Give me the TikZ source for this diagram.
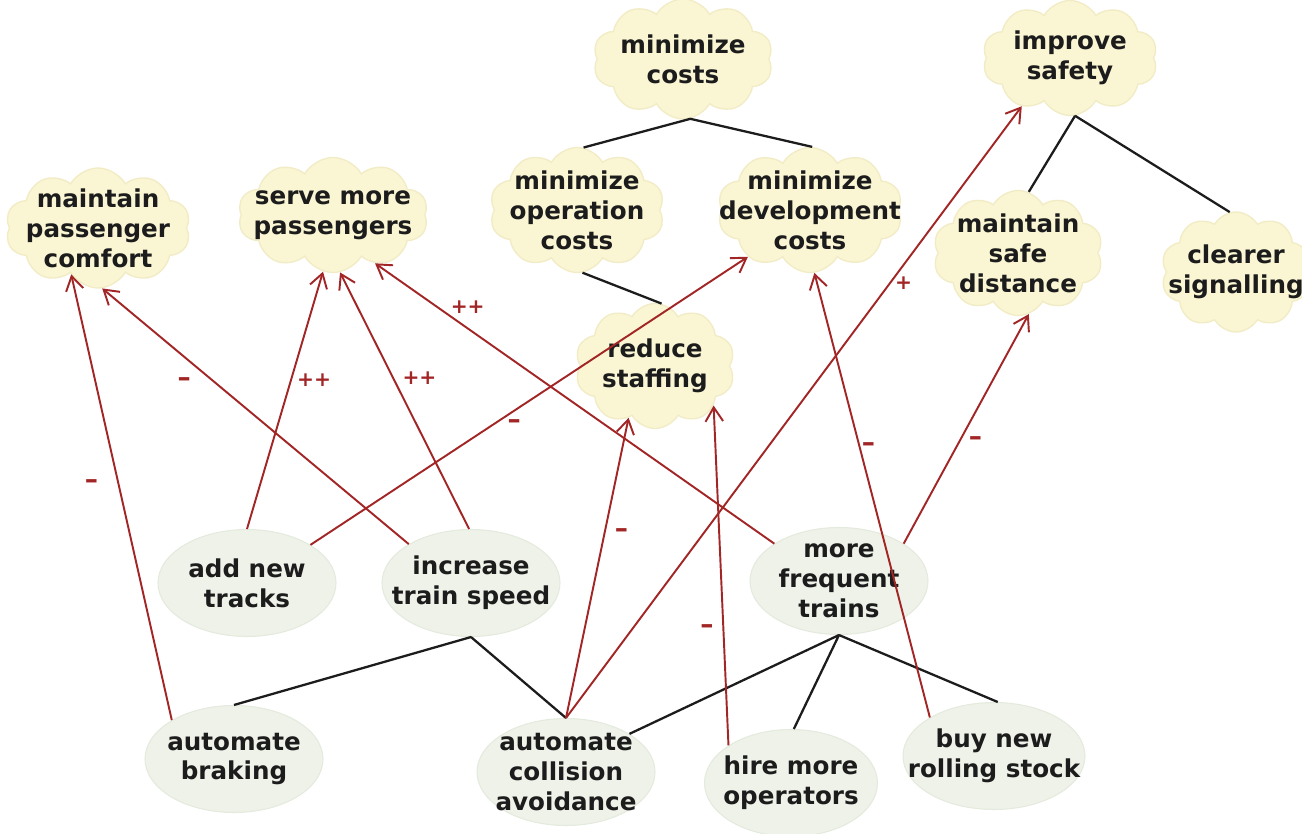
\documentclass[tikz,border=0pt]{standalone}
\usepackage{fontspec}
\setmainfont{DejaVu Sans}
\usetikzlibrary{shapes.symbols,shapes.geometric,arrows.meta}
\definecolor{cloudfill}{RGB}{250,246,212}
\definecolor{cloudline}{RGB}{242,236,198}
\definecolor{taskfill}{RGB}{238,242,232}
\definecolor{taskline}{RGB}{228,234,222}
\definecolor{linkred}{RGB}{162,38,38}
\definecolor{ink}{RGB}{28,28,28}
\begin{document}
\begin{tikzpicture}[x=.2mm,y=-.2mm,
  goal/.style={cloud,cloud puffs=10,cloud puff arc=120,cloud ignores aspect,
    fill=cloudfill,draw=cloudline,line width=.8pt,inner sep=-3cm,
    minimum width=3.6cm,minimum height=2.4cm,align=center,
    font=\bfseries\fontsize{14}{17}\selectfont,text=ink},
  task/.style={ellipse,fill=taskfill,draw=taskline,line width=.6pt,inner sep=-3cm,
    minimum width=3.56cm,minimum height=2.14cm,align=center,
    font=\bfseries\fontsize{14}{17}\selectfont,text=ink},
  andline/.style={ink,line width=1.3pt},
  contrib/.style={linkred,line width=1.1pt,-{Straight Barb[length=8pt,width=10pt,line width=1.1pt]}},
  sign/.style={text=linkred,font=\bfseries\fontsize{11.5}{12}\selectfont,inner sep=0pt},
  signdash/.style={sign,font=\bfseries\fontsize{15}{15}\selectfont}]
  \useasboundingbox (0,0) rectangle (1302,834);
  \node[goal] (mincost) at (683,59) {minimize\\costs};
  \node[goal,minimum width=3.5cm,minimum height=2.3cm] (safety) at (1070,58) {improve\\safety};
  \node[goal,minimum width=3.7cm] (comfort) at (98,228) {maintain\\passenger\\comfort};
  \node[goal,minimum width=3.8cm,minimum height=2.3cm] (serve) at (333,215) {serve more\\passengers};
  \node[goal,minimum width=3.5cm,minimum height=2.5cm] (opcost) at (577,210) {minimize\\operation\\costs};
  \node[goal,minimum width=3.7cm,minimum height=2.5cm] (devcost) at (810,210) {minimize\\development\\costs};
  \node[goal,minimum width=3.4cm,minimum height=2.5cm] (distance) at (1018,253) {maintain\\safe\\distance};
  \node[goal,minimum width=3.0cm] (signal) at (1236,272) {clearer\\signalling};
  \node[goal,minimum width=3.2cm,minimum height=2.5cm] (staffing) at (655,366) {reduce\\staffing};
  \node[task] (tracks) at (247,583) {add new\\tracks};
  \node[task] (speed) at (471,583) {increase\\train speed};
  \node[task] (frequent) at (839,581) {more\\frequent\\trains};
  \node[task] (braking) at (234,759) {automate\\braking};
  \node[task] (collision) at (566,772) {automate\\collision\\avoidance};
  \node[task,minimum width=3.46cm] (operators) at (791,783) {hire more\\operators};
  \node[task,minimum width=3.64cm] (stock) at (994,756) {buy new\\rolling stock};
  \draw[andline] (mincost.277) -- (opcost.84) (mincost.277) -- (devcost.88);
  \draw[andline] (opcost.275) -- (staffing.84);
  \draw[andline] (safety.275) -- (distance.80) (safety.275) -- (signal.96);
  \draw[andline] (speed.south) -- (braking.90) (speed.south) -- (collision.north);
  \draw[andline] (frequent.south) -- (collision.31) (frequent.south) -- (operators.87)
    (frequent.south) -- (stock.86);
  \draw[contrib] (braking.148) -- node[signdash,pos=.54,xshift=-.52cm,yshift=-.1cm]{\textendash} (comfort.240);
  \draw[contrib] (speed.148) -- node[signdash,pos=.635,xshift=-.6cm]{\textendash} (comfort.274);
  \draw[contrib] (tracks.90) -- node[sign,pos=.58,xshift=.46cm]{++} (serve.260);
  \draw[contrib] (speed.92) -- node[sign,pos=.586,xshift=.52cm]{++} (serve.277);
  \draw[contrib] (frequent.150) -- node[sign,pos=.843,xshift=.6cm]{++} (serve.311);
  \draw[contrib] (tracks.31) -- node[signdash,pos=.418,xshift=.42cm]{\textendash} (devcost.217);
  \draw[contrib] (collision.90) -- node[signdash,pos=.616,xshift=.34cm]{\textendash} (staffing.243);
  \draw[contrib] (collision.90) -- node[sign,pos=.71,xshift=.28cm]{+} (safety.225);
  \draw[contrib] (operators.149) -- node[signdash,pos=.342,xshift=-.33cm]{\textendash} (staffing.326);
  \draw[contrib] (stock.149) -- node[signdash,pos=.609,xshift=.18cm]{\textendash} (devcost.274);
  \draw[contrib] (frequent.30) -- node[signdash,pos=.446,xshift=.32cm]{\textendash} (distance.280);
\end{tikzpicture}
\end{document}
